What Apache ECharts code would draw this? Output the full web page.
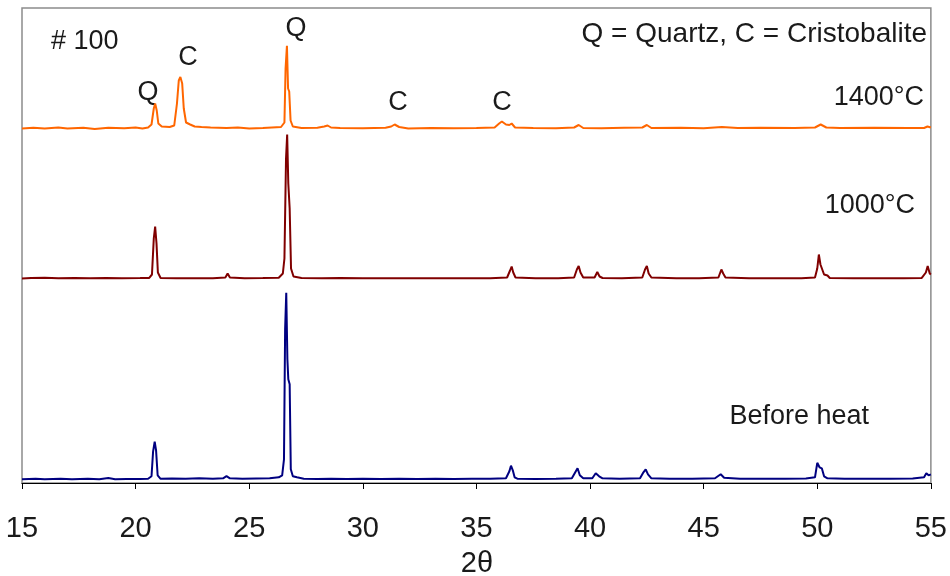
<!DOCTYPE html>
<html>
<head>
<meta charset="utf-8">
<script src="https://cdn.jsdelivr.net/npm/echarts@6/dist/echarts.min.js"></script>
<style>
html,body{margin:0;padding:0;background:#fff;}
#chart{width:950px;height:576px;}
</style>
</head>
<body>
<div id="chart"></div>
<script>
// 2θ axis ticks
const xTicks = [15, 20, 25, 30, 35, 40, 45, 50, 55];

// Intensity (a.u.) above each trace's own baseline: [2θ, intensity]
const beforeHeat = [
  [15,0],[15.6,0.6],[16,0],[16.7,0.5],[17.2,0],[17.9,0.6],[18.4,0],[18.8,1.2],[19.1,0],[19.6,0.4],[20.2,0.3],[20.55,0.6],
  [20.7,3],[20.77,28],[20.84,37.6],[20.9,29],[20.97,4],[21.1,0.5],[21.6,0.8],[22.2,0.5],[22.8,1],[23.4,0.6],
  [23.85,1],[24.0,3.2],[24.15,1],[24.7,0.6],[25.3,0.8],[25.9,1],[26.3,2],[26.45,4],[26.53,20],[26.58,150],[26.63,186.6],
  [26.68,120],[26.72,100],[26.78,95],[26.83,10],[26.92,3],[27.1,2],[27.4,0.6],[28.0,0.4],[28.6,0.6],[29.3,0.4],[30.0,0.6],
  [30.8,0.3],[31.6,0.6],[32.4,0.4],[33.2,0.6],[34.0,0.3],[34.8,0.6],[35.6,0.5],[36.3,1],[36.45,8],[36.52,13.6],[36.6,9],
  [36.68,2],[36.8,0.6],[37.6,0.4],[38.5,0.6],[39.2,1],[39.35,7],[39.45,11],[39.55,4],[39.7,1],[40.1,1],[40.25,6],[40.4,3],
  [40.55,1],[41.3,0.6],[42.2,1],[42.35,7],[42.45,10],[42.55,5],[42.7,1],[43.5,0.6],[44.5,0.5],[45.5,1],[45.75,5],[45.9,1.5],
  [46.6,0.6],[47.6,0.5],[48.6,0.6],[49.5,0.8],[49.9,2],[50.0,16.5],[50.1,12],[50.2,11],[50.3,3],[50.45,1],[51.2,0.6],
  [52.2,0.5],[53.2,0.6],[54.2,0.8],[54.7,2],[54.8,6],[54.9,4],[55,5]
];
const heat1000 = [
  [15,0],[15.4,0.5],[16,0.8],[16.6,0.3],[17.3,0.5],[18.0,0.2],[18.7,0.4],[19.4,0.3],[20.2,0.4],[20.6,0.6],
  [20.72,4],[20.8,40],[20.86,52],[20.92,35],[20.98,6],[21.1,0.5],[21.8,0.3],[22.6,0.2],[23.4,0.3],[23.95,1],[24.05,5],[24.15,1],
  [24.8,0.3],[25.6,0.4],[26.3,0.8],[26.48,5],[26.55,20],[26.62,120],[26.67,144],[26.72,95],[26.78,70],[26.84,10],[26.95,2],
  [27.3,0.5],[28.2,0.3],[29.0,0.4],[30.0,0.3],[31.0,0.3],[32.2,0.2],[33.4,0.3],[34.6,0.2],[35.6,0.3],[36.35,1],[36.48,8],
  [36.55,12],[36.62,6],[36.72,1],[37.6,0.3],[38.6,0.2],[39.3,1],[39.42,9],[39.5,12.5],[39.58,6],[39.7,1],[40.2,1],
  [40.32,6.5],[40.42,2],[40.55,0.5],[41.4,0.3],[42.3,1],[42.42,9],[42.5,12.5],[42.58,5],[42.7,1],[43.8,0.3],[44.8,0.2],
  [45.65,1],[45.78,9],[45.86,5],[45.96,1],[47.0,0.3],[48.2,0.2],[49.3,0.3],[49.9,1],[50.0,10],[50.07,24],[50.14,14],
  [50.22,13],[50.3,4],[50.45,3],[50.55,0.5],[51.6,0.3],[52.8,0.2],[53.8,0.3],[54.6,0.6],[54.78,6],[54.86,12.5],[54.95,5],[55,4]
];
const heat1400 = [
  [15,0],[15.5,0.8],[16,0],[16.6,1],[17,0],[17.7,0.8],[18.2,-0.5],[18.8,0.8],[19.5,0.3],[20,1],[20.3,0],[20.55,1],
  [20.7,4],[20.8,20],[20.86,25],[20.93,18],[21.0,5],[21.15,2],[21.5,1.5],[21.7,3],[21.82,25],[21.9,48],[21.97,51.6],
  [22.05,45],[22.12,20],[22.22,6],[22.4,4],[22.6,2],[22.9,1.5],[23.3,1],[24,0.5],[24.5,1],[25,0],[25.6,0.5],[26,1],
  [26.4,1.5],[26.55,6],[26.6,60],[26.66,82.6],[26.71,40],[26.76,37],[26.82,8],[26.92,2],[27.3,0.5],[28,0.8],[28.3,2],
  [28.45,3],[28.6,1],[29,0.5],[30,0.3],[31,0.8],[31.25,2],[31.4,4],[31.6,1.5],[32,0],[33,0.5],[34,0.2],[35,0.5],[35.8,1],
  [36.0,5],[36.12,7],[36.3,4],[36.45,3.5],[36.55,5],[36.7,1],[37.5,0.5],[38.5,0.3],[39.3,1],[39.5,3.5],[39.7,0.5],
  [40.5,0.3],[41.5,0.8],[42.3,1],[42.5,3.5],[42.7,0.5],[44,0.8],[45,0.3],[45.8,1.5],[46.5,0.5],[47.5,0.8],[49,0.5],
  [49.9,1],[50.15,4],[50.4,1],[51,0.5],[52.5,0.8],[54,0.5],[54.7,0.5],[54.85,2],[55,1]
];

// Vertical offsets of the stacked traces (a.u.)
const offsets = { before: 3.7, h1000: 204.5, h1400: 354.5 };
const seriesNames = ['Before heat', '1000°C', '1400°C'];

const shift = (arr, off) => arr.map(p => [p[0], p[1] + off]);

const FONT = 'Liberation Sans, Arial, sans-serif';
const NARROW = '"Liberation Sans Narrow", "Arial Narrow", Liberation Sans, sans-serif';
const TXT = '#1a1a1a';
const txt = (text, x, y, align, size, fam) => ({
  type: 'text', x: x, y: y,
  style: { text: text, font: (size || 27) + 'px ' + (fam || FONT), fill: TXT, align: align || 'center', verticalAlign: 'middle' }
});

const chart = echarts.init(document.getElementById('chart'));
chart.setOption({
  animation: false,
  backgroundColor: '#ffffff',
  grid: { left: 22, right: 18, top: 8, bottom: 93, show: true, borderColor: '#8c8c8c', borderWidth: 1.5, backgroundColor: 'transparent' },
  xAxis: {
    type: 'value', min: 15, max: 55, interval: 5,
    axisLine: { show: true, onZero: false, lineStyle: { color: '#000', width: 1 } },
    axisTick: { show: true, inside: false, length: 6, lineStyle: { color: '#000' } },
    splitLine: { show: false },
    axisLabel: { fontSize: 29, fontFamily: NARROW, color: TXT, margin: 31,
      formatter: v => xTicks.includes(v) ? String(v) : '' }
  },
  yAxis: { type: 'value', min: 0, max: 475, show: false, splitLine: { show: false } },
  series: [
    { name: seriesNames[0], type: 'line', data: shift(beforeHeat, offsets.before), symbol: 'none', lineStyle: { color: '#000080', width: 2 }, z: 3 },
    { name: seriesNames[1], type: 'line', data: shift(heat1000, offsets.h1000), symbol: 'none', lineStyle: { color: '#800000', width: 2 }, z: 3 },
    { name: seriesNames[2], type: 'line', data: shift(heat1400, offsets.h1400), symbol: 'none', lineStyle: { color: '#ff6600', width: 2 }, z: 3 }
  ],
  graphic: [
    txt('# 100', 51, 42, 'left'),
    txt('Q = Quartz, C = Cristobalite', 927, 34, 'right', 28),
    txt('1400°C', 924, 98, 'right'),
    txt('1000°C', 915, 206, 'right'),
    txt('Before heat', 869, 417, 'right'),
    txt('Q', 148, 93),
    txt('C', 188, 58),
    txt('Q', 296, 29),
    txt('C', 398, 103),
    txt('C', 502, 103),
    txt('2θ', 477, 564, 'center', 29, NARROW)
  ]
});
</script>
</body>
</html>
